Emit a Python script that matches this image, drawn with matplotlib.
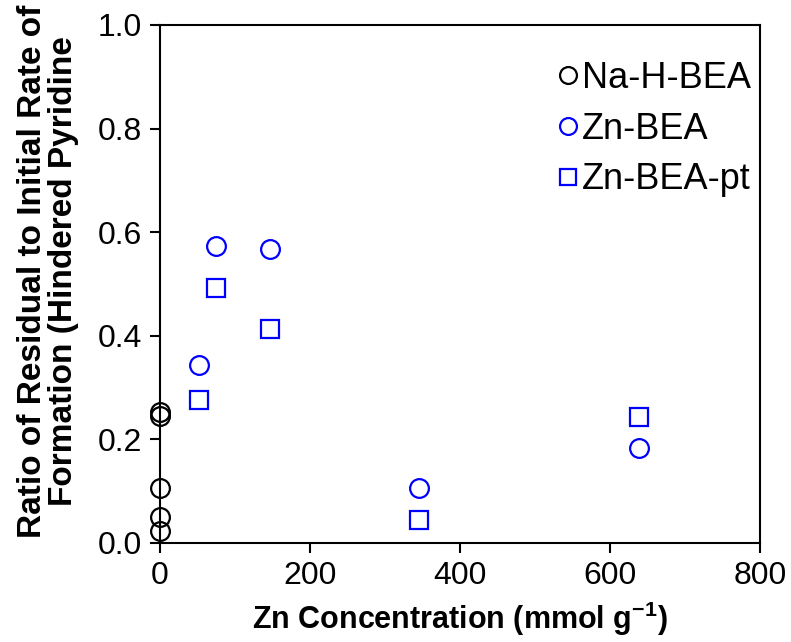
import matplotlib.pyplot as plt

# Na-H-BEA (no zinc)
nah_x = [0, 0, 0, 0, 0]
nah_y = [0.252, 0.245, 0.107, 0.050, 0.024]

# Zn-BEA
zn_x = [52, 75, 146, 346, 638]
zn_y = [0.343, 0.574, 0.568, 0.107, 0.183]

# Zn-BEA-pt
znpt_x = [52, 75, 146, 346, 638]
znpt_y = [0.276, 0.492, 0.413, 0.044, 0.244]

plt.rcParams['font.family'] = ['Liberation Sans', 'DejaVu Sans']

fig = plt.figure(figsize=(7.91, 6.42), dpi=100)
ax = fig.add_axes([160 / 791, 99 / 642, 600 / 791, 518 / 642])

mk = dict(linestyle='none', markersize=13.5, markeredgewidth=1.6, markerfacecolor='none')
ax.plot(nah_x, nah_y, marker='o', markeredgecolor='black', label='Na-H-BEA', clip_on=False, **mk)
ax.plot(zn_x, zn_y, marker='o', markeredgecolor='#0000ff', label='Zn-BEA', clip_on=False, **mk)
ax.plot(znpt_x, znpt_y, marker='s', markeredgecolor='#0000ff', label='Zn-BEA-pt', clip_on=False, **mk)

ax.set_xlim(0, 800)
ax.set_ylim(0, 1.0)
ax.set_xticks([0, 200, 400, 600, 800])
ax.set_yticks([0.0, 0.2, 0.4, 0.6, 0.8, 1.0])
ax.set_yticklabels(['0.0', '0.2', '0.4', '0.6', '0.8', '1.0'])

for s in ax.spines.values():
    s.set_linewidth(1.5)
ax.tick_params(direction='out', length=7, width=1.5, labelsize=23, pad=6)

ax.set_xlabel('Zn Concentration (mmol g$^{\\mathregular{-1}}$)', fontsize=22,
              fontweight='bold', labelpad=6)
ax.set_ylabel('Ratio of Residual to Initial Rate of\nFormation (Hindered Pyridine',
              fontsize=24, fontweight='bold', linespacing=1.0)
ax.yaxis.set_label_coords(-0.135, 0.525)

leg = ax.legend(loc='upper right', bbox_to_anchor=(1.027, 0.98), frameon=False,
                fontsize=26, markerscale=0.9, handlelength=0.55,
                handletextpad=0.1, labelspacing=0.44, borderaxespad=0.3)

fig.savefig('out.png', dpi=100)
